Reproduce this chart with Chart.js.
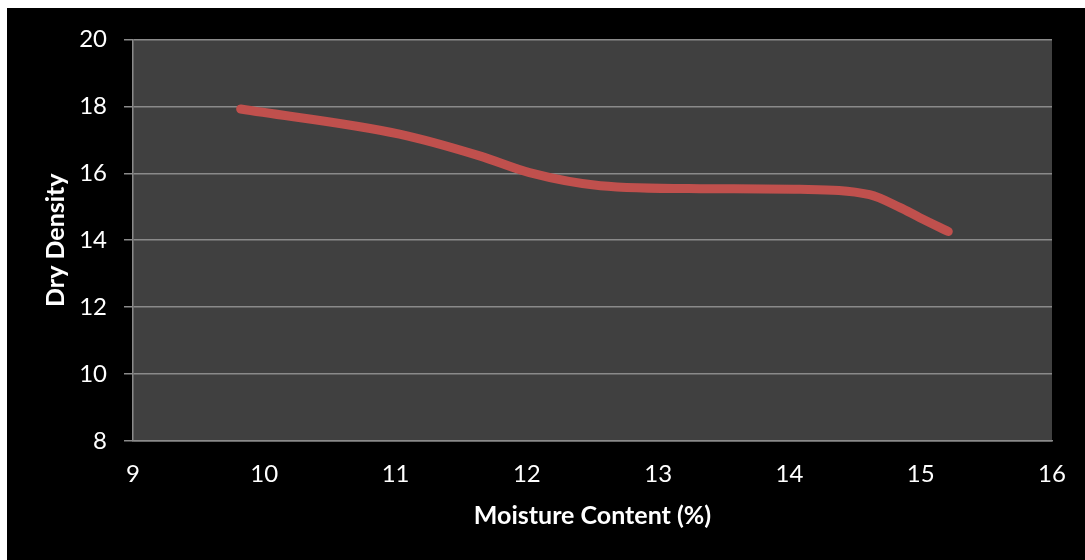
<!DOCTYPE html>
<html lang="en">
<head>
  <meta charset="UTF-8">
  <title>Dry Density vs Moisture Content</title>
  <script src="https://cdn.jsdelivr.net/npm/chart.js@4.4.3/dist/chart.umd.min.js"></script>
  <style>
    html, body { margin: 0; padding: 0; background: #fff; }
    .frame { position: absolute; left: 7px; top: 8px; width: 1078px; height: 552px; background: #000; }
    canvas { display: block; }
  </style>
</head>
<body>
  <div class="frame">
    <canvas id="densityChart" width="1078" height="552"></canvas>
  </div>

  <script>
    // values
    const moisture = [9.82, 11.03, 11.64, 12.02, 12.56, 13.32, 14.08, 14.61, 14.84, 14.99, 15.21];
    const dryDensity = [17.92, 17.17, 16.52, 16.02, 15.63, 15.54, 15.52, 15.36, 14.98, 14.68, 14.26];

    const xTicks = [9, 10, 11, 12, 13, 14, 15, 16];
    const yTicks = [8, 10, 12, 14, 16, 18, 20];

    const gridGray = '#8a8a8a';
    const fontFamily = 'Lato, "Open Sans", sans-serif';

    // dark gray plot area
    const plotBackground = {
      id: 'plotBackground',
      beforeDraw(chart) {
        const { ctx, chartArea } = chart;
        ctx.save();
        ctx.fillStyle = '#404040';
        ctx.fillRect(chartArea.left, chartArea.top, chartArea.width, chartArea.height);
        ctx.restore();
      }
    };

    new Chart(document.getElementById('densityChart').getContext('2d'), {
      type: 'line',
      data: {
        datasets: [{
          label: 'Dry Density',
          data: moisture.map((m, i) => ({ x: m, y: dryDensity[i] })),
          borderColor: '#C0504D',
          borderWidth: 9,
          borderCapStyle: 'round',
          borderJoinStyle: 'round',
          pointRadius: 0,
          cubicInterpolationMode: 'monotone',
          fill: false
        }]
      },
      options: {
        responsive: false,
        animation: false,
        devicePixelRatio: 1,
        layout: { padding: { top: 30, right: 33, left: 0, bottom: 0 } },
        plugins: {
          legend: { display: false },
          tooltip: { enabled: false }
        },
        scales: {
          x: {
            type: 'linear',
            min: xTicks[0],
            max: xTicks[xTicks.length - 1],
            afterBuildTicks: (s) => { s.ticks = xTicks.map(v => ({ value: v })); },
            afterFit: (s) => { s.height = 119; },
            grid: { display: false, drawTicks: false },
            border: { display: true, color: gridGray, width: 1.5 },
            ticks: { color: '#fff', padding: 19, font: { family: fontFamily, size: 24 } },
            title: {
              display: true,
              text: 'Moisture Content (%)',
              color: '#fff',
              font: { family: fontFamily, size: 25, weight: 'bold' },
              padding: { top: 0, bottom: 29 }
            }
          },
          y: {
            min: yTicks[0],
            max: yTicks[yTicks.length - 1],
            afterBuildTicks: (s) => { s.ticks = yTicks.map(v => ({ value: v })); },
            afterFit: (s) => { s.width = 126; },
            grid: { color: gridGray, lineWidth: 1.5, drawTicks: true, tickLength: 9 },
            border: { display: true, color: gridGray, width: 1.5 },
            ticks: { color: '#fff', padding: 17, font: { family: fontFamily, size: 24 } },
            title: {
              display: true,
              text: 'Dry Density',
              color: '#fff',
              font: { family: fontFamily, size: 25, weight: 'bold' },
              padding: { top: 34, bottom: 0 }
            }
          }
        }
      },
      plugins: [plotBackground]
    });
  </script>
</body>
</html>
